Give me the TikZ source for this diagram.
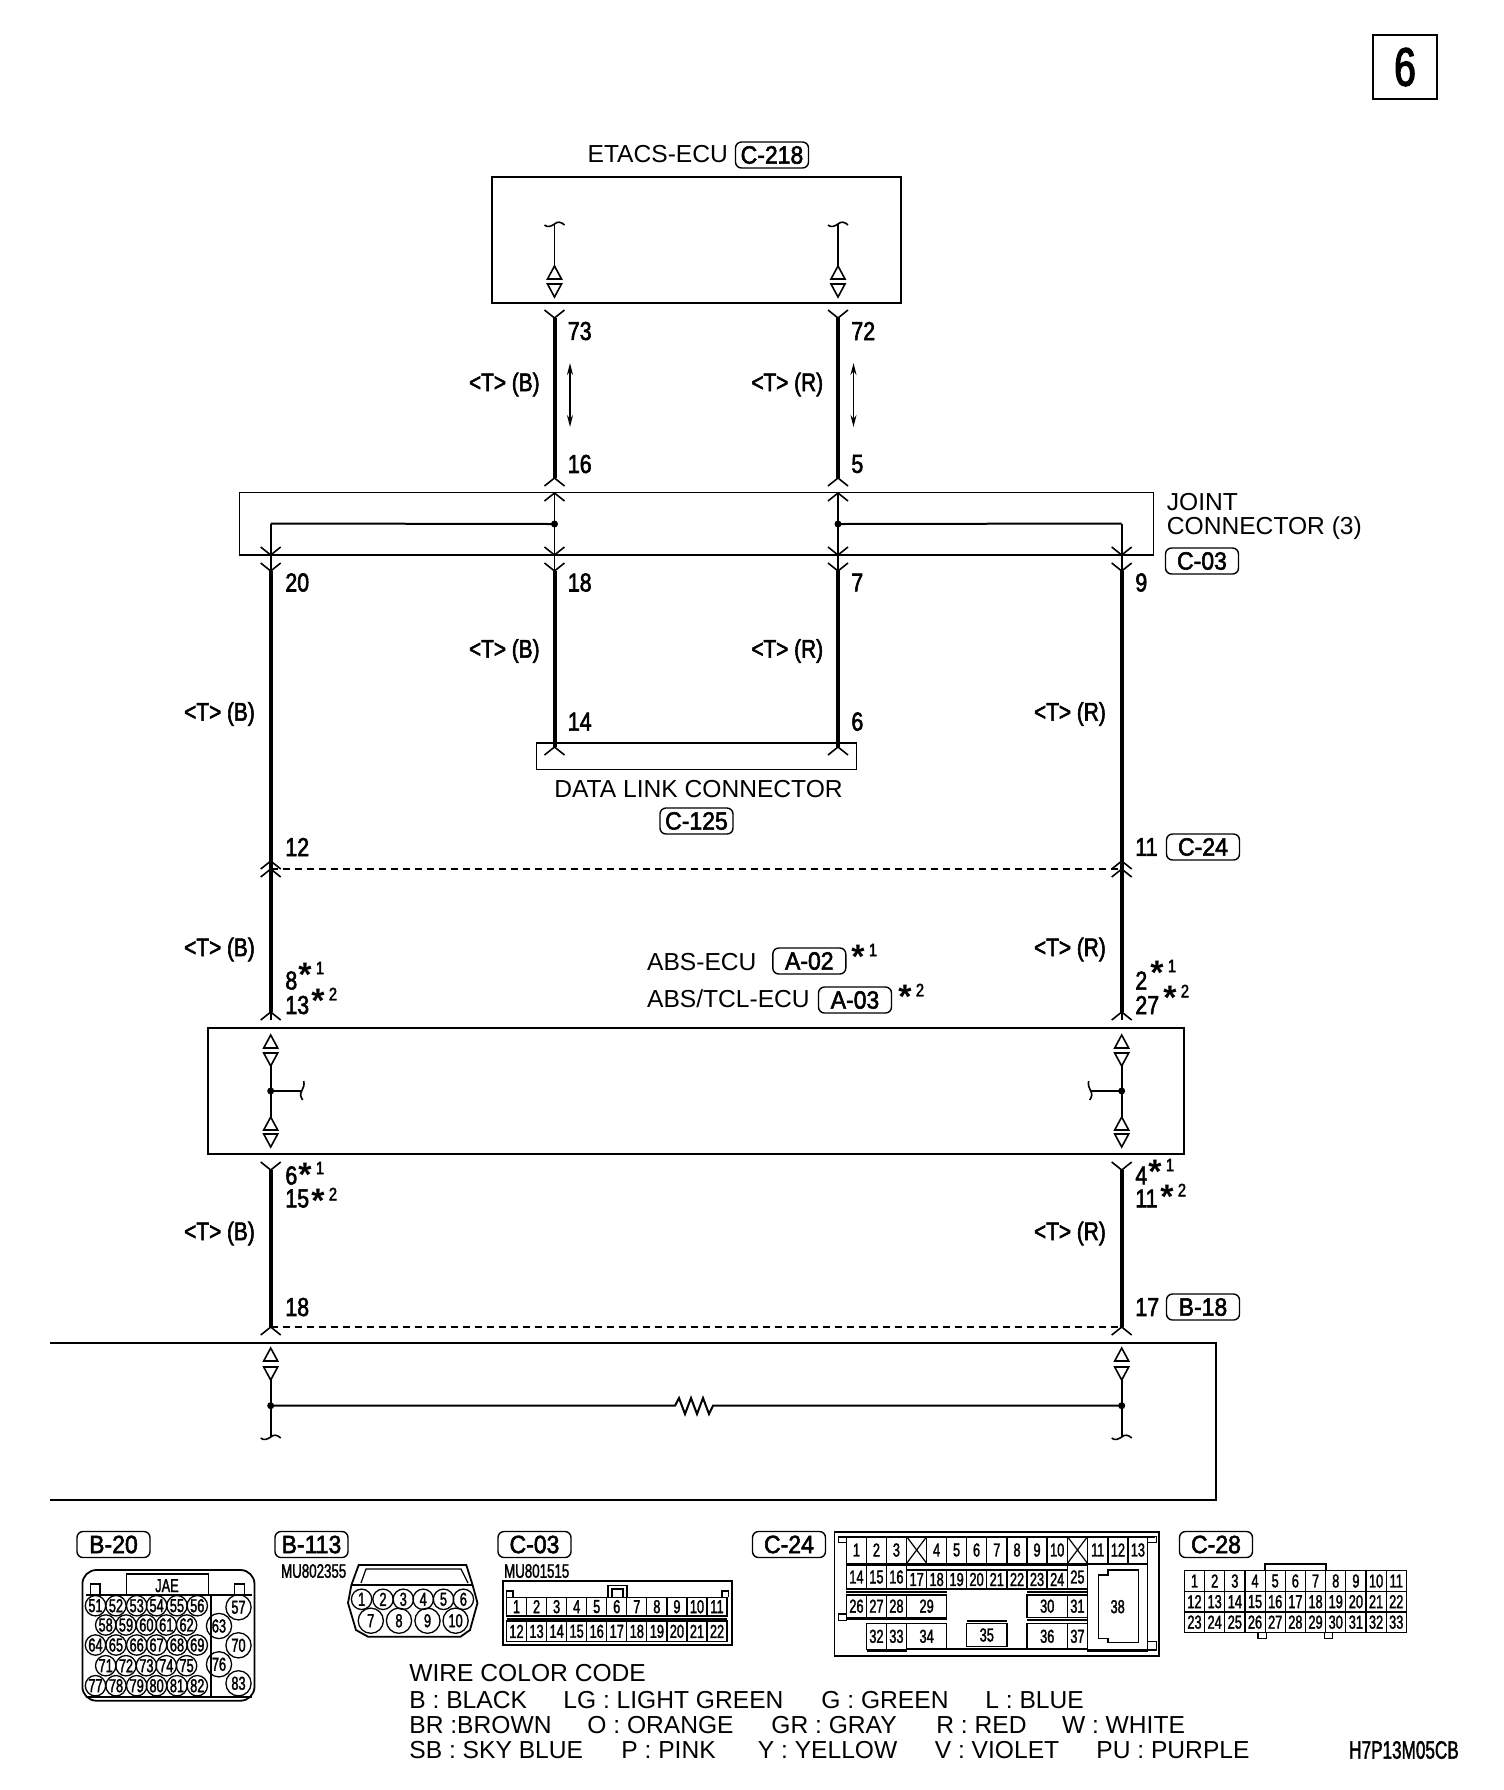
\documentclass[tikz,border=0pt]{standalone}
\usepackage{fontspec}
\setmainfont{Liberation Sans}
\newfontfamily\numf[FakeStretch=.82,FakeBold=2.2]{Liberation Sans}
\newfontfamily\tagf[FakeStretch=.92,FakeBold=2.2]{Liberation Sans}
\newfontfamily\pinf[FakeStretch=.68,FakeBold=1.6]{Liberation Sans}
\newfontfamily\bigf[FakeStretch=.72,FakeBold=2.5]{Liberation Sans}
\newfontfamily\starf{Liberation Sans Bold}
\usetikzlibrary{arrows.meta,calc}
\tikzset{
  thinw/.style={line width=.8pt},
  thickw/.style={line width=2pt},
  boxl/.style={draw,rectangle,line width=.9pt,inner sep=0pt},
  lbl/.style={inner sep=0pt,anchor=west,font=\fontsize{12.3pt}{12.3pt}\selectfont},
  num/.style={inner sep=0pt,anchor=west,font=\numf\fontsize{13pt}{13pt}\selectfont},
  tw/.style={inner sep=0pt,anchor=east,font=\numf\fontsize{12.7pt}{12.7pt}\selectfont},
  tag/.style={draw,rectangle,rounded corners=3pt,line width=.7pt,minimum width=36.5pt,minimum height=13pt,inner sep=0pt,font=\tagf\fontsize{12.5pt}{12.5pt}\selectfont},
  wirecode/.style={inner sep=0pt,anchor=west,font=\fontsize{12.3pt}{12.3pt}\selectfont},
  pin/.style={inner sep=0pt,font=\pinf\fontsize{9.4pt}{9.4pt}\selectfont},
  pinc/.style={pin,draw,circle,line width=.65pt,minimum size=10.2pt},
  pinC/.style={pin,draw,circle,line width=.65pt,minimum size=12.6pt},
  cellline/.style={line width=.6pt},
  jdot/.style={fill,circle,inner sep=0pt,minimum size=3.5pt}
}
\newcommand{\forkY}[1]{\draw[thinw] (#1) ++(-10,-8) -- (#1) -- ++(10,-8);}
\newcommand{\forkU}[1]{\draw[thinw] (#1) ++(-10,8) -- (#1) -- ++(10,8);}
\newcommand{\triU}[1]{\draw[thinw,fill=white] (#1) -- ++(-7,13) -- ++(14,0) -- cycle;}
\newcommand{\triD}[1]{\draw[thinw,fill=white] (#1) -- ++(-7,-13) -- ++(14,0) -- cycle;}
\newcommand{\brkH}[1]{\draw[thinw] (#1) ++(-10,1) .. controls +(3,3) and +(-3,2) .. (#1) .. controls +(3,-3) and +(-3,-3) .. ++(10,1);}
\newcommand{\brkV}[2]{\draw[thinw] (#1) ++({#2*2},-10) .. controls +({#2*1},4) and +({#2*1.5},-3) .. (#1) .. controls +({#2*-2},3) and +({#2*-2},-3) .. ++({#2*1},9);}
\newcommand{\starnote}[4]{\node[inner sep=0pt,anchor=north,font=\starf\fontsize{17pt}{17pt}\selectfont] (#1s) at ({#2},{#3-5.5}) {*};\node[inner sep=0pt,font=\numf\fontsize{9pt}{9pt}\selectfont] (#1n) at ({#2+15},{#3}) {#4};}
\newcommand{\cellbox}[6]{\draw[cellline] ({#1},{#2}) rectangle ({#3},{#4});\node[pin] (#6) at ({(#1+#3)/2},{(#2+#4)/2}) {#5};}
\begin{document}
\begin{tikzpicture}[x=.5pt,y=-.5pt]
\useasboundingbox (0,0) rectangle (1504,1790);
\fill[white] (0,0) rectangle (1504,1790);
% page number
\node[boxl,line width=1.3pt,minimum width=32pt,minimum height=32pt,font=\bigf\fontsize{27pt}{27pt}\selectfont] (pageno) at (1405,67) {6};
% boxes
\node[boxl,minimum width=204.6pt,minimum height=63.2pt] (ecu) at (696.3,239.8) {};
\node[lbl] (ecutext) at (587.2,154) {ETACS-ECU};
\node[tag] (tagecu) at (772,155) {C-218};
\node[boxl,line width=.7pt,minimum width=457pt,minimum height=31.2pt] (joint) at (696.3,523.5) {};
\draw[line width=1pt] (joint.south west) -- (joint.south east);
\node[lbl] (jt1) at (1166.5,501.7) {JOINT};
\node[lbl] (jt2) at (1166.5,527.8) {CONNECTOR (3)};
\node[tag] (tagjoint) at (1202,561) {C-03};
\node[boxl,line width=.7pt,minimum width=160pt,minimum height=13.2pt] (dlc) at (696.5,756.2) {};
\node[lbl,anchor=center] (dlct) at (698.5,789.5) {DATA LINK CONNECTOR};
\node[tag] (tagdlc) at (696.5,821) {C-125};
\node[boxl,minimum width=488pt,minimum height=63pt] (abs) at (696,1090.7) {};
\node[lbl] (abst1) at (646.7,962) {ABS-ECU};
\node[tag] (taga02) at (809.3,961) {A-02};
\starnote{s1}{858}{950}{1}
\node[lbl] (abst2) at (646.7,999) {ABS/TCL-ECU};
\node[tag] (taga03) at (855,1000) {A-03};
\starnote{s2}{905}{990}{2}
\coordinate (lb1) at (50,1342.7);\coordinate (lb2) at (1216,1342.7);\coordinate (lb3) at (1216,1500);\coordinate (lb4) at (50,1500);
\draw[line width=.9pt] (lb1) -- (lb2) -- (lb3) -- (lb4);
% two upper wires
\foreach \w/\x/\tc/\nt/\nb/\nc/\nd in {b/554.5/B/73/16/18/14,c/838/R/72/5/7/6}{
  \coordinate (\w top) at (\x,224);
  \coordinate (\w tu) at (\x,266);
  \coordinate (\w td) at (\x,297);
  \coordinate (\w y1) at (\x,318);
  \coordinate (\w u1) at (\x,478);
  \coordinate (\w u2) at (\x,493);
  \coordinate (\w dot) at (\x,524);
  \coordinate (\w v) at (\x,555);
  \coordinate (\w y2) at (\x,571);
  \coordinate (\w u3) at (\x,747);
  \coordinate (\w a1) at (\x+15.5,363);
  \coordinate (\w a2) at (\x+15.5,427);
  \draw[thinw] (\w top) -- (\w tu);
  \brkH{\w top}
  \triU{\w tu}
  \triD{\w td}
  \forkY{\w y1}
  \draw[thickw] (\w y1) -- (\w u1);
  \forkU{\w u1}
  \forkU{\w u2}
  \draw[thinw] (\w u2) -- (\w v) -- (\w y2);
  \draw[thinw] (\w v) ++(-10,-8) -- (\w v) -- ++(10,-8);
  \forkY{\w y2}
  \draw[thickw] (\w y2) -- (\w u3);
  \forkU{\w u3}
  \node[jdot] (\w jd) at (\w dot) {};
  \draw[thinw,{Stealth[length=6pt,width=3pt,open]}-{Stealth[length=6pt,width=3pt,open]}] (\w a1) -- (\w a2);
  \node[num] at (\x+13,331) {\nt};
  \node[num] at (\x+13,464) {\nb};
  \node[num] at (\x+13,582.5) {\nc};
  \node[num] at (\x+13,721.6) {\nd};
  \node[tw] at (\x-14.5,384.5) {<T> (\tc)};
  \node[tw] at (\x-14.5,651) {<T> (\tc)};
}
% two outer wires
\foreach \w/\x/\tc/\nt/\nm/\sgn/\na/\nb/\nc/\nd/\ne/\sa/\sya/\sb/\syb/\sc/\syc/\sd/\syd/\nx in {a/270.7/B/20/12/1/8/13/6/15/18/305/968/318/994/305/1168/318/1194/285,d/1121.7/R/9/11/-1/2/27/4/11/17/1157/966/1170/991/1155/1165/1167/1190/1135}{
  \coordinate (\w j) at (\x,523.5);
  \coordinate (\w v) at (\x,555);
  \coordinate (\w y) at (\x,571);
  \coordinate (\w u1) at (\x,861);
  \coordinate (\w u2) at (\x,869);
  \coordinate (\w u3) at (\x,1012);
  \coordinate (\w t1) at (\x,1035);
  \coordinate (\w t2) at (\x,1066);
  \coordinate (\w dot) at (\x,1091);
  \coordinate (\w stub) at (\x+\sgn*31,1091);
  \coordinate (\w t3) at (\x,1117);
  \coordinate (\w t4) at (\x,1147);
  \coordinate (\w y2) at (\x,1170);
  \coordinate (\w u4) at (\x,1327);
  \coordinate (\w t5) at (\x,1348);
  \coordinate (\w t6) at (\x,1380);
  \coordinate (\w dot2) at (\x,1405.7);
  \coordinate (\w end) at (\x,1437);
  \draw[line width=1pt] (\w j) -- (\w v);
  \draw[thinw] (\w v) -- (\w y);
  \draw[thinw] (\w v) ++(-10,-8) -- (\w v) -- ++(10,-8);
  \forkY{\w y}
  \draw[thickw] (\w y) -- (\w u3);
  \forkU{\w u1}
  \forkU{\w u2}
  \forkU{\w u3}
  \draw[thinw] (\w u3) -- ++(0,8);
  \triU{\w t1}
  \triD{\w t2}
  \draw[thinw] (\w t2) -- (\w t3);
  \draw[thinw] (\w dot) -- (\w stub);
  \brkV{\w stub}{\sgn}
  \node[jdot] (\w jd) at (\w dot) {};
  \triU{\w t3}
  \triD{\w t4}
  \forkY{\w y2}
  \draw[thickw] (\w y2) -- (\w u4);
  \forkU{\w u4}
  \triU{\w t5}
  \triD{\w t6}
  \draw[thinw] (\w t6) -- (\w end);
  \brkH{\w end}
  \node[jdot] (\w jd2) at (\w dot2) {};
  \node[num] at (\nx,582.5) {\nt};
  \node[num] at (\nx,847) {\nm};
  \node[num] (\w n8) at (\nx,980.5) {\na};
  \node[num] (\w n13) at (\nx,1005) {\nb};
  \node[num] (\w n6) at (\nx,1175.5) {\nc};
  \node[num] (\w n15) at (\nx,1198.5) {\nd};
  \node[num] at (\nx,1307) {\ne};
  \starnote{\w A}{\sa}{\sya}{1}
  \starnote{\w B}{\sb}{\syb}{2}
  \starnote{\w C}{\sc}{\syc}{1}
  \starnote{\w D}{\sd}{\syd}{2}
  \node[tw] at (\x-15.5,714) {<T> (\tc)};
  \node[tw] at (\x-15.5,949.5) {<T> (\tc)};
  \node[tw] at (\x-15.5,1233.5) {<T> (\tc)};
}
\draw[line width=1pt] (aj) -- (bdot);
\draw[line width=1pt] (cdot) -- (dj);
\draw[line width=.55pt,dash pattern=on 3.5pt off 2.5pt] (au2) -- (du2);
\draw[line width=.7pt,dash pattern=on 3.5pt off 2.5pt] (au4) -- (du4);
\node[tag] (tagc24) at (1203,847) {C-24};
\node[tag] (tagb18) at (1203,1307) {B-18};
% line with resistor
\draw[line width=1pt] (adot2) -- (675,1405.7) -- (679,1398) -- (685,1414) -- (691,1398) -- (697,1414) -- (703,1398) -- (709,1414) -- (713,1405.7) -- (ddot2);
% tags at the bottom
\node[tag] (tagB20) at (113.5,1544.5) {B-20};
\node[tag] (tagB113) at (311.5,1544.5) {B-113};
\node[tag] (tagC03) at (534.5,1544.5) {C-03};
\node[tag] (tagC24) at (789,1544.5) {C-24};
\node[tag] (tagC28) at (1216,1544.5) {C-28};
\node[pin,font=\pinf\fontsize{9.8pt}{9.8pt}\selectfont] (mu1) at (313.7,1571) {MU802355};
\node[pin,font=\pinf\fontsize{9.8pt}{9.8pt}\selectfont] (mu2) at (536.7,1571) {MU801515};
% B-20
\draw[line width=.9pt,rounded corners=7pt] (82.4,1570) rectangle (254.5,1700.7);
\draw[cellline] (126.5,1574) rectangle (208.4,1595);
\node[pin] (jae) at (167,1585.7) {JAE};
\draw[cellline] (90.6,1595) -- (90.6,1584) -- (100,1584) -- (100,1595);
\draw[cellline] (234.6,1595) -- (234.6,1584) -- (244.3,1584) -- (244.3,1595);
\draw[line width=.9pt] (86,1595) -- (252,1595);
\draw[line width=.9pt] (86,1697) -- (252,1697);
\draw[cellline] (211,1595) -- (211,1697);
\foreach \n/\x/\y in {51/95.5/1605.7,52/116/1605.7,53/136.7/1605.7,54/156.6/1605.7,55/177/1605.7,56/197.3/1605.7,
 58/105.7/1625,59/126/1625,60/146.4/1625,61/166.3/1625,62/186.6/1625,
 64/95.5/1645,65/116/1645,66/136.7/1645,67/156.6/1645,68/177/1645,69/197.3/1645,
 71/105.7/1665.7,72/126/1665.7,73/146.4/1665.7,74/166.3/1665.7,75/186.6/1665.7,
 77/95.5/1685.7,78/116/1685.7,79/136.7/1685.7,80/156.6/1685.7,81/177/1685.7,82/197.3/1685.7}
  {\node[pinc] (bt\n) at (\x,\y) {\n};}
\foreach \n/\x/\y in {57/238.5/1607.3,63/219/1626,70/238.5/1645.3,76/219/1664.3,83/238.5/1683.3}
  {\node[pinC] (bt\n) at (\x,\y) {\n};}
% B-113
\draw[line width=.9pt] (358.7,1565) -- (466.3,1565) -- (472.6,1585) -- (477.5,1603) -- (470,1630) -- (460.5,1636.7) -- (368,1636.7) -- (356,1630) -- (348,1603) -- (351.4,1585) -- cycle;
\draw[cellline] (361,1583) -- (366,1569) -- (461,1569) -- (468,1583);
\draw[line width=.9pt] (351.4,1585) -- (472.6,1585);
\foreach \n/\x in {1/361.6,2/383,3/403.3,4/423.2,5/443.5,6/463.4}
  {\node[pinc] (bu\n) at (\x,1599.3) {\n};}
\foreach \n/\x in {7/370.8,8/399,9/427.5,10/455.6}
  {\node[pinC] (bu\n) at (\x,1620.7) {\n};}
% C-03
\draw[line width=.9pt] (503,1581.3) rectangle (732,1645.3);
\draw[cellline] (608,1597.3) -- (608,1585.7) -- (627,1585.7) -- (627,1597.3);
\draw[cellline] (612,1597.3) -- (612,1589) -- (623,1589) -- (623,1597.3);
\draw[cellline] (506.5,1597.3) -- (506.5,1591) -- (513,1591) -- (513,1597.3);
\draw[cellline] (722,1597.3) -- (722,1591) -- (728.5,1591) -- (728.5,1597.3);
\draw[line width=1pt] (506.5,1618.5) -- (727,1618.5);
\foreach \n [count=\i] in {1,...,11}
  {\cellbox{506.5+(\i-1)*20.05}{1597.3}{506.5+\i*20.05}{1616}{\n}{cc\n}}
\foreach \n [count=\i] in {12,...,22}
  {\cellbox{506.5+(\i-1)*20.05}{1621}{506.5+\i*20.05}{1641.7}{\n}{cc\n}}
% C-24
\begin{scope}[shift={(740,1490)},xscale=.4873,yscale=.3333]
\draw[line width=.9pt] (194,125) rectangle (860,498);
\draw[line width=.9pt] (202,140) -- (852,140);
\draw[cellline] (202,140) rectangle (218,158);
\draw[cellline] (837,140) rectangle (855,158);
\draw[cellline] (202,372) rectangle (218,392);
\draw[cellline] (837,455) rectangle (855,480);
\foreach \n/\a/\b in {1/218/260,2/260/300,3/300/342,4/383/424,5/424/465,6/465/506,7/506/548,8/548/589,9/589/630,10/630/672,11/713/755,12/755/796,13/796/837}
  {\cellbox{\a}{140}{\b}{220}{\n}{cx\n}}
\foreach \a/\b in {342/383,672/713}{
  \draw[cellline] (\a,140) rectangle (\b,220);
  \draw[cellline] (\a,220) -- (\b,140) (\a,140) -- (\b,220);
}
\foreach \n/\a/\b in {14/218/260,15/260/300,16/300/342}
  {\cellbox{\a}{225}{\b}{297}{\n}{cx\n}}
\foreach \n/\a/\b in {17/342/383,18/383/424,19/424/465,20/465/506,21/506/548,22/548/589,23/589/630,24/630/672}
  {\cellbox{\a}{240}{\b}{297}{\n}{cx\n}}
\draw[cellline] (342,225) rectangle (672,240);
\cellbox{672}{225}{713}{297}{25}{cx25}
\foreach \n/\a/\b in {26/218/260,27/260/300,28/300/342,29/342/424,30/589/672,31/672/713}
  {\cellbox{\a}{315}{\b}{382}{\n}{cx\n}}
\foreach \n/\a/\b in {32/260/300,33/300/342,34/342/424,36/589/672,37/672/713}
  {\cellbox{\a}{400}{\b}{478}{\n}{cx\n}}
\cellbox{465}{400}{548}{470}{35}{cx35}
\draw[line width=.9pt] (218,306) -- (424,306) (589,306) -- (713,306);
\draw[line width=.9pt] (218,388) -- (424,388) (589,391) -- (713,391) (465,392) -- (548,392);
\draw[line width=.9pt] (260,484) -- (342,484) (713,484) -- (837,484) (342,478) -- (713,478);
\draw[line width=.9pt] (218,222) -- (837,222);
\draw[cellline] (713,222) -- (837,222) -- (837,480) -- (713,480) -- cycle;
\draw[cellline] (735,255) -- (755,255) -- (755,240) -- (817,240) -- (817,458) -- (755,458) -- (755,445) -- (735,445) -- cycle;
\node[pin] (cx38) at (775,350) {38};
\end{scope}
% C-28
\begin{scope}[shift={(740,1490)},xscale=.4873,yscale=.3333]
\draw[line width=.8pt] (1077,242) -- (1077,222) -- (1203,222) -- (1203,242);
\draw[cellline] (1063,427) -- (1063,445) -- (1080,445) -- (1080,427);
\draw[cellline] (1200,427) -- (1200,445) -- (1216,445) -- (1216,427);
\foreach \n [count=\i] in {1,...,11}
  {\cellbox{912+(\i-1)*41.4}{242}{912+\i*41.4}{304}{\n}{cy\n}}
\foreach \n [count=\i] in {12,...,22}
  {\cellbox{912+(\i-1)*41.4}{304}{912+\i*41.4}{366}{\n}{cy\n}}
\foreach \n [count=\i] in {23,...,33}
  {\cellbox{912+(\i-1)*41.4}{366}{912+\i*41.4}{427}{\n}{cy\n}}
\end{scope}
% wire colour code
\node[wirecode] (wc0) at (409,1673.5) {WIRE COLOR CODE};
\node[wirecode] (wc1) at (409,1700) {B : BLACK};
\node[wirecode] (wc2) at (563,1700) {LG : LIGHT GREEN};
\node[wirecode] (wc3) at (821,1700) {G : GREEN};
\node[wirecode] (wc4) at (985,1700) {L : BLUE};
\node[wirecode] (wc5) at (409,1725) {BR :BROWN};
\node[wirecode] (wc6) at (587,1725) {O : ORANGE};
\node[wirecode] (wc7) at (771,1725) {GR : GRAY};
\node[wirecode] (wc8) at (936,1725) {R : RED};
\node[wirecode] (wc9) at (1061.6,1725) {W : WHITE};
\node[wirecode] (wc10) at (409,1750) {SB : SKY BLUE};
\node[wirecode] (wc11) at (621,1750) {P : PINK};
\node[wirecode] (wc12) at (757.5,1750) {Y : YELLOW};
\node[wirecode] (wc13) at (934.4,1750) {V : VIOLET};
\node[wirecode] (wc14) at (1096,1750) {PU : PURPLE};
\node[pin,font=\pinf\fontsize{12.6pt}{12.6pt}\selectfont] (code) at (1404,1750) {H7P13M05CB};
\end{tikzpicture}
\end{document}
